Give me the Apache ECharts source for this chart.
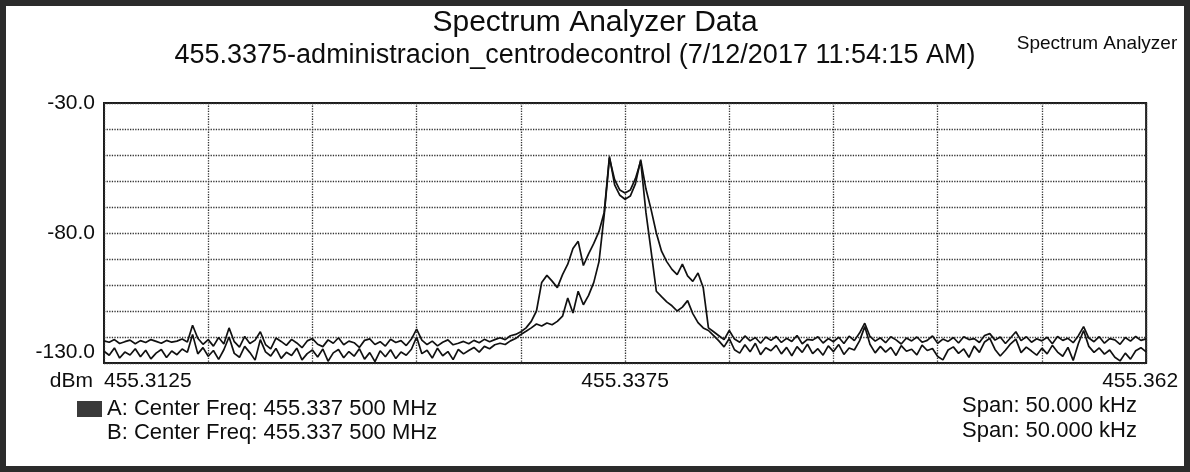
<!DOCTYPE html>
<html><head><meta charset="utf-8">
<script src="https://cdn.jsdelivr.net/npm/echarts@6/dist/echarts.min.js"></script>
<style>html,body{margin:0;padding:0;background:#fff}#c{width:1190px;height:472px}</style>
</head><body><div id="c"></div><script>
// Sample spacing (kHz from the left edge of the 50 kHz span), 201 samples per trace
const sampleStepKHz = 0.25;
const xLabelValues = [0, 25, 50];
const xLabelTexts = ['455.3125', '455.3375', '455.362'];
const yLabelValues = [-30, -80, -130];
const seriesNames = ['A: Center Freq: 455.337 500 MHz', 'B: Center Freq: 455.337 500 MHz'];
const spanTexts = ['Span: 50.000 kHz', 'Span: 50.000 kHz'];

const traceA = [
 -121.5,-122.0,-121.0,-122.5,-121.8,-121.2,-122.6,-121.4,-122.1,-121.0,
 -121.7,-122.4,-121.3,-122.0,-121.6,-120.8,-121.9,-115.5,-120.5,-122.8,
 -121.0,-123.5,-120.2,-122.7,-116.5,-121.8,-123.9,-119.8,-122.5,-121.2,
 -118.0,-122.9,-124.6,-120.4,-121.7,-123.2,-120.9,-122.3,-124.1,-121.5,
 -120.6,-122.8,-123.7,-121.1,-122.4,-120.3,-123.0,-121.6,-122.2,-124.0,
 -121.3,-120.7,-122.9,-121.8,-123.5,-120.9,-122.1,-121.4,-123.3,-120.8,
 -117.0,-121.2,-122.9,-121.6,-123.4,-122.0,-121.1,-123.0,-122.4,-121.7,
 -122.6,-121.3,-122.2,-120.9,-121.8,-121.0,-120.3,-121.0,-119.5,-119.0,
 -118.0,-116.5,-114.0,-110.0,-99.0,-96.3,-98.5,-101.0,-96.0,-92.0,
 -86.0,-83.2,-92.5,-88.0,-84.0,-79.4,-72.0,-50.5,-61.5,-65.5,
 -67.0,-65.8,-61.0,-51.8,-63.0,-71.0,-80.0,-87.0,-91.0,-94.0,
 -96.0,-92.0,-96.5,-98.6,-95.4,-101.0,-116.5,-118.0,-119.5,-121.0,
 -117.5,-120.8,-122.0,-119.6,-121.5,-120.2,-122.4,-120.0,-121.3,-119.8,
 -122.1,-120.5,-121.7,-119.4,-122.6,-120.9,-121.2,-119.9,-122.3,-120.6,
 -121.8,-120.1,-122.5,-119.7,-121.4,-118.5,-114.7,-119.8,-121.6,-120.3,
 -122.2,-119.9,-121.1,-122.7,-120.4,-121.5,-120.0,-122.0,-121.3,-119.6,
 -122.4,-120.8,-121.7,-120.2,-122.3,-119.9,-121.0,-120.6,-122.1,-119.4,
 -118.7,-121.2,-120.0,-122.5,-120.3,-118.0,-121.4,-119.9,-122.0,-120.7,
 -121.5,-120.1,-122.6,-119.8,-121.3,-120.5,-122.2,-119.5,-116.0,-120.4,
 -121.8,-119.9,-122.4,-120.6,-121.1,-122.8,-120.2,-121.6,-119.8,-121.3,
 -120.7
];
const traceB = [
 -125.5,-127.0,-124.2,-128.1,-125.8,-126.9,-124.5,-127.6,-125.1,-128.4,
 -126.2,-124.8,-127.9,-125.4,-126.8,-124.6,-125.9,-119.0,-126.5,-124.1,
 -127.4,-125.2,-128.6,-124.9,-120.0,-126.3,-127.8,-123.6,-126.0,-128.9,
 -121.0,-125.7,-127.3,-124.4,-128.2,-125.9,-127.1,-124.3,-128.8,-126.4,
 -125.0,-127.7,-124.6,-129.3,-126.1,-124.8,-128.0,-125.6,-127.4,-124.5,
 -128.5,-126.0,-129.5,-125.3,-127.6,-124.9,-128.3,-125.8,-127.0,-124.7,
 -120.0,-126.4,-125.1,-128.1,-124.3,-127.2,-125.6,-128.7,-124.8,-126.5,
 -125.2,-124.0,-125.8,-123.6,-124.5,-123.0,-122.4,-122.9,-121.5,-120.6,
 -119.0,-117.8,-116.5,-115.0,-115.8,-114.6,-115.3,-114.0,-112.0,-105.0,
 -110.8,-102.4,-107.6,-104.0,-99.0,-91.0,-73.0,-51.2,-59.5,-63.5,
 -64.6,-63.5,-59.0,-52.4,-72.0,-87.0,-102.4,-104.5,-106.5,-108.0,
 -110.0,-108.5,-106.0,-111.0,-114.5,-116.5,-117.5,-119.5,-121.5,-123.8,
 -120.6,-124.9,-126.2,-123.0,-125.7,-122.4,-126.8,-124.1,-125.3,-123.2,
 -126.5,-124.0,-127.2,-123.7,-125.9,-122.8,-126.4,-124.5,-127.0,-123.4,
 -125.6,-122.9,-126.7,-124.2,-125.0,-121.5,-116.0,-122.8,-126.1,-123.6,
 -125.8,-124.0,-127.1,-123.3,-125.5,-124.7,-126.9,-123.1,-125.2,-124.4,
 -127.5,-128.8,-125.0,-123.8,-126.3,-124.6,-127.8,-123.5,-125.9,-121.9,
 -120.5,-124.8,-127.3,-125.1,-122.6,-120.8,-126.0,-123.9,-125.4,-127.0,
 -124.3,-126.5,-123.2,-125.8,-127.4,-124.0,-129.0,-122.5,-117.5,-123.6,
 -125.9,-124.2,-126.6,-125.0,-127.8,-129.2,-126.2,-128.5,-125.3,-124.1,
 -125.7
];

const FONT = '"Liberation Sans", Arial, sans-serif';
const INK = '#0d0d0d';
const chart = echarts.init(document.getElementById('c'), null, {renderer: 'canvas'});
const toPairs = arr => arr.map((v, i) => [i * sampleStepKHz, v]);

chart.setOption({
  animation: false,
  backgroundColor: '#ffffff',
  grid: {left: 104, right: 42, top: 103, bottom: 109, show: true, borderColor: '#1a1a1a', borderWidth: 2, containLabel: false},
  xAxis: {
    type: 'value', min: 0, max: 50, interval: 5,
    axisLine: {show: false}, axisTick: {show: false},
    splitLine: {show: true, lineStyle: {type: 'dotted', color: '#333', width: 1.3}},
    axisLabel: {
      show: true, margin: 8, fontSize: 21, fontFamily: FONT, color: INK,
      alignMinLabel: 'left', alignMaxLabel: 'center',
      formatter: v => {
        const k = xLabelValues.findIndex(t => Math.abs(t - v) < 1e-6);
        if (k < 0) return '';
        return k === xLabelValues.length - 1 ? '{m|' + xLabelTexts[k] + '}{s| }' : xLabelTexts[k];
      },
      rich: {
        m: {fontSize: 21, fontFamily: FONT, color: INK},
        s: {fontSize: 21, width: 12}
      }
    }
  },
  yAxis: {
    type: 'value', min: -130, max: -30, interval: 10,
    name: 'dBm', nameLocation: 'start', nameGap: 18,
    nameTextStyle: {fontSize: 21, fontFamily: FONT, color: INK, align: 'right', verticalAlign: 'middle', padding: [0, 11, 0, 0]},
    axisLine: {show: false}, axisTick: {show: false},
    splitLine: {show: true, lineStyle: {type: 'dotted', color: '#333', width: 1.3}},
    axisLabel: {
      margin: 9, fontSize: 21, fontFamily: FONT, color: INK,
      verticalAlignMinLabel: 'bottom',
      formatter: v => yLabelValues.some(t => Math.abs(t - v) < 1e-6) ? v.toFixed(1) : ''
    }
  },
  legend: {
    orient: 'vertical', left: 72, top: 393, itemWidth: 25, itemHeight: 16, itemGap: 2,
    selectedMode: false,
    textStyle: {fontSize: 22, fontFamily: FONT, color: INK},
    data: [
      {name: seriesNames[0], icon: 'rect', itemStyle: {color: '#3a3a3a', borderWidth: 0}},
      {name: seriesNames[1], icon: 'rect', itemStyle: {color: 'rgba(0,0,0,0)', opacity: 0, borderWidth: 0}}
    ]
  },
  series: [
    {name: seriesNames[0], type: 'line', data: toPairs(traceA), showSymbol: false, symbol: 'none',
     lineStyle: {color: '#111', width: 1.7}, itemStyle: {color: '#111'}, z: 3},
    {name: seriesNames[1], type: 'line', data: toPairs(traceB), showSymbol: false, symbol: 'none',
     lineStyle: {color: '#111', width: 1.7}, itemStyle: {color: '#111'}, z: 3}
  ],
  graphic: [
    {type: 'rect', silent: true, shape: {x: 3, y: 3, width: 1184, height: 466},
     style: {fill: 'none', stroke: '#2b2b2b', lineWidth: 6}},
    {type: 'text', silent: true, x: 595, y: 23,
     style: {text: 'Spectrum Analyzer Data', fontSize: 30, fontFamily: FONT, fill: INK, align: 'center', verticalAlign: 'middle'}},
    {type: 'text', silent: true, x: 575, y: 56,
     style: {text: '455.3375-administracion_centrodecontrol (7/12/2017 11:54:15 AM)', fontSize: 27, fontFamily: FONT, fill: INK, align: 'center', verticalAlign: 'middle'}},
    {type: 'text', silent: true, x: 1097, y: 44,
     style: {text: 'Spectrum Analyzer', fontSize: 19, fontFamily: FONT, fill: INK, align: 'center', verticalAlign: 'middle'}},
    {type: 'text', silent: true, x: 962, y: 406,
     style: {text: spanTexts[0], fontSize: 22, fontFamily: FONT, fill: INK, align: 'left', verticalAlign: 'middle'}},
    {type: 'text', silent: true, x: 962, y: 431,
     style: {text: spanTexts[1], fontSize: 22, fontFamily: FONT, fill: INK, align: 'left', verticalAlign: 'middle'}}
  ]
});
</script></body></html>
